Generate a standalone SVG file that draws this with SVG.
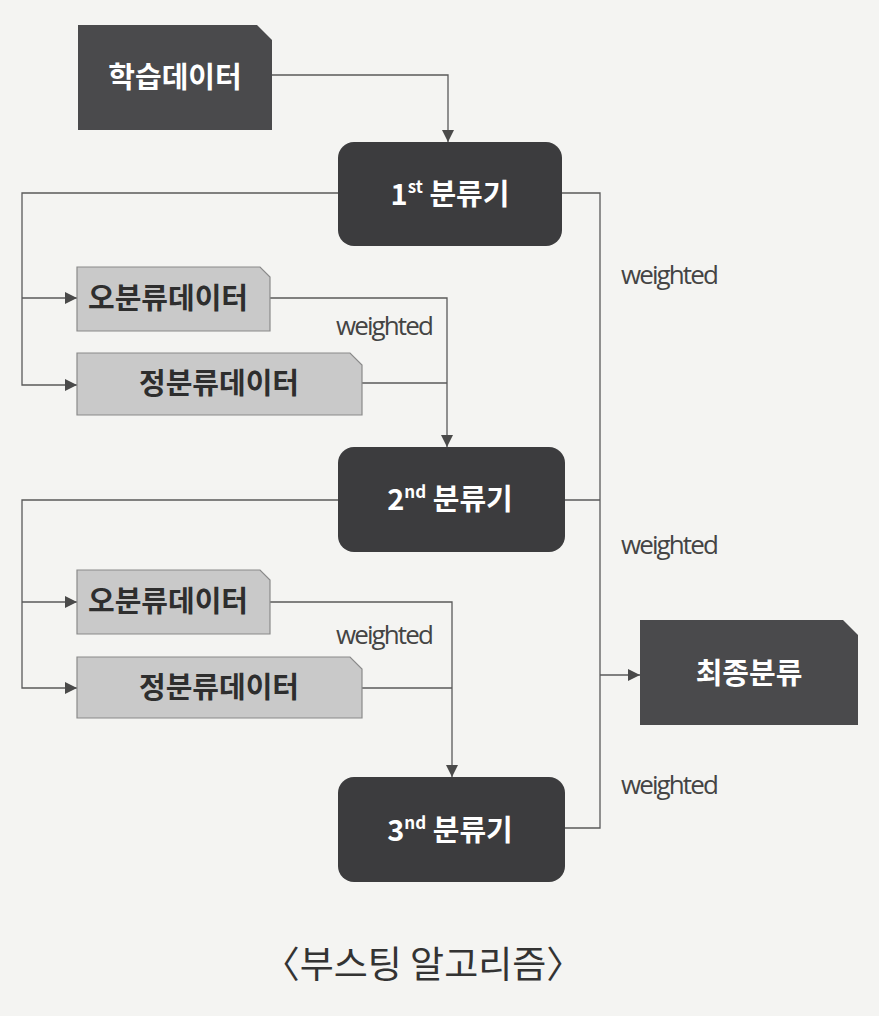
<svg xmlns="http://www.w3.org/2000/svg" width="879" height="1016" viewBox="0 0 879 1016">
<defs>
<marker id="ah" viewBox="0 0 12 12" refX="12" refY="6" markerWidth="12" markerHeight="12" markerUnits="userSpaceOnUse" orient="auto">
<path d="M0,0 L12,6 L0,12 Z" fill="#4a4a4a"/>
</marker>
<style>
.dark{fill:#3c3c3e;}
.darkd{fill:#4a4a4c;}
.light{fill:#c9c9c9;stroke:#8a8a8a;stroke-width:1.2;}
.wt{font-family:"Noto Sans CJK KR","Noto Sans",sans-serif;font-weight:700;font-size:29px;fill:#ffffff;text-anchor:middle;}
.bt{font-family:"Noto Sans CJK KR","Noto Sans",sans-serif;font-weight:700;font-size:29px;fill:#2e2e2e;text-anchor:middle;}
.sup{font-size:17px;}
.lbl{font-family:"Open Sans","Liberation Sans",sans-serif;font-size:26px;fill:#444;letter-spacing:-1.9px;}
.cap{font-family:"Noto Sans CJK KR",sans-serif;font-size:37px;fill:#333;text-anchor:middle;}
.ln{fill:none;stroke:#5a5a5a;stroke-width:1.3;}
</style>
</defs>
<rect width="879" height="1016" fill="#f4f4f2"/>
<g id="connectors">
<path class="ln" d="M272,75 H448 V142" marker-end="url(#ah)"/>
<path class="ln" d="M338,193 H22 V385 H77" marker-end="url(#ah)"/>
<path class="ln" d="M22,298 H77" marker-end="url(#ah)"/>
<path class="ln" d="M270,298 H447 V447" marker-end="url(#ah)"/>
<path class="ln" d="M362,383 H447"/>
<path class="ln" d="M338,500 H22 V688 H77" marker-end="url(#ah)"/>
<path class="ln" d="M22,602 H77" marker-end="url(#ah)"/>
<path class="ln" d="M270,602 H452 V777" marker-end="url(#ah)"/>
<path class="ln" d="M362,688 H452"/>
<path class="ln" d="M562,193 H600 V828 H565"/>
<path class="ln" d="M565,500 H600"/>
<path class="ln" d="M600,675 H640" marker-end="url(#ah)"/>
<text class="lbl" x="621" y="284">weighted</text>
<text class="lbl" x="336" y="335">weighted</text>
<text class="lbl" x="621" y="554">weighted</text>
<text class="lbl" x="336" y="644">weighted</text>
<text class="lbl" x="621" y="794">weighted</text>
</g>
<g id="train">
<path class="darkd" d="M78,25 H257 L272,40 V130 H78 Z"/>
<text class="wt" x="175" y="88">학습데이터</text>
</g>
<g id="clf1">
<rect class="dark" x="338" y="142" width="224" height="104" rx="16"/>
<text class="wt" x="450" y="205">1<tspan class="sup" dy="-12">st</tspan><tspan dy="12"> 분류기</tspan></text>
</g>
<g id="mis1">
<path class="light" d="M77,267 H260 L270,277 V331 H77 Z"/>
<text class="bt" x="168" y="309">오분류데이터</text>
</g>
<g id="cor1">
<path class="light" d="M77,353 H350 L362,365 V415 H77 Z"/>
<text class="bt" x="219" y="394">정분류데이터</text>
</g>
<g id="clf2">
<rect class="dark" x="338" y="447" width="227" height="105" rx="16"/>
<text class="wt" x="450" y="510">2<tspan class="sup" dy="-12">nd</tspan><tspan dy="12"> 분류기</tspan></text>
</g>
<g id="mis2">
<path class="light" d="M77,570 H260 L270,580 V634 H77 Z"/>
<text class="bt" x="168" y="612">오분류데이터</text>
</g>
<g id="cor2">
<path class="light" d="M77,657 H350 L362,669 V718 H77 Z"/>
<text class="bt" x="219" y="698">정분류데이터</text>
</g>
<g id="clf3">
<rect class="dark" x="338" y="777" width="227" height="105" rx="16"/>
<text class="wt" x="450" y="841">3<tspan class="sup" dy="-12">nd</tspan><tspan dy="12"> 분류기</tspan></text>
</g>
<g id="final">
<path class="darkd" d="M640,620 H843 L858,635 V725 H640 Z"/>
<text class="wt" x="749" y="684">최종분류</text>
</g>
<text class="cap" x="423" y="978">〈부스팅 알고리즘〉</text>
</svg>
